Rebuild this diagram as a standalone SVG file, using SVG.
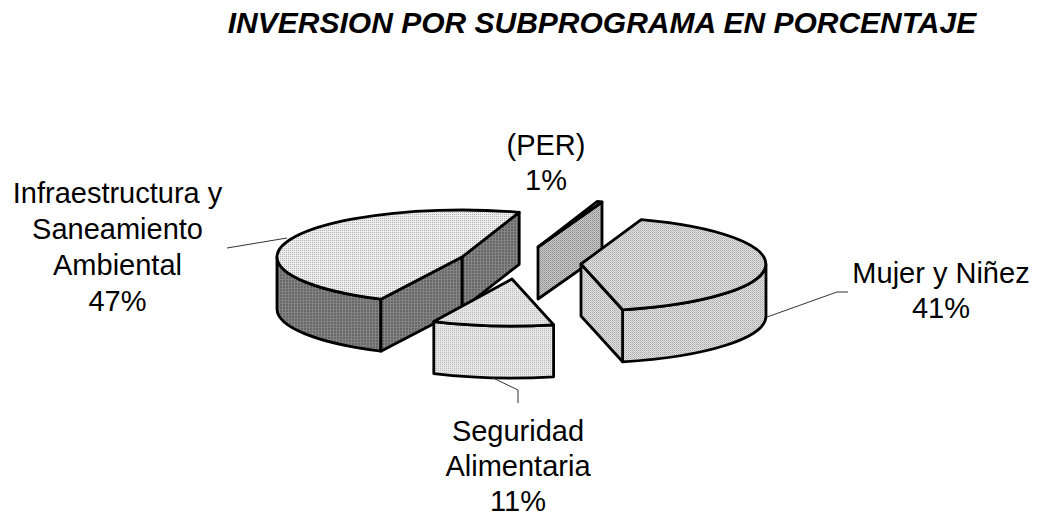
<svg xmlns="http://www.w3.org/2000/svg" width="1039" height="515" viewBox="0 0 1039 515">
<style>
.lbl{font-family:"Liberation Sans",Arial,sans-serif;font-size:29px;fill:#000;text-anchor:middle}
.ttl{font-family:"Liberation Sans",Arial,sans-serif;font-size:30px;font-weight:bold;font-style:italic;fill:#000;text-anchor:middle}
.edge{stroke:#000;stroke-width:2.8;stroke-linejoin:round}
.lead{fill:none;stroke:#333;stroke-width:1}
</style>
<defs>
<pattern id="pDark" width="3" height="3" patternUnits="userSpaceOnUse"><rect width="3" height="3" fill="#666"/><rect width="1" height="3" fill="#888"/><rect width="3" height="1" fill="#828282"/></pattern>
<pattern id="pLight" width="2" height="2" patternUnits="userSpaceOnUse"><rect width="2" height="2" fill="#eeeeee"/><rect width="1" height="1" fill="#b0b0b0"/></pattern>
<pattern id="pMid" width="2" height="2" patternUnits="userSpaceOnUse"><rect width="2" height="2" fill="#e0e0e0"/><rect width="1" height="1" fill="#aaaaaa"/><rect x="1" y="1" width="1" height="1" fill="#c0c0c0"/></pattern>
<pattern id="pSeg" width="2" height="2" patternUnits="userSpaceOnUse"><rect width="2" height="2" fill="#e6e6e6"/><rect width="1" height="1" fill="#bcbcbc"/></pattern>
<pattern id="pPer" width="2" height="2" patternUnits="userSpaceOnUse"><rect width="2" height="2" fill="#cccccc"/><rect width="1" height="1" fill="#888888"/><rect x="1" y="1" width="1" height="1" fill="#a2a2a2"/></pattern>
</defs>
<rect width="1039" height="515" fill="#fff"/>
<text class="ttl" x="602" y="33">INVERSION POR SUBPROGRAMA EN PORCENTAJE</text>

<g id="slice-infraestructura">
<path class="edge" fill="url(#pDark)" d="M380.9,299.2 A185,47 0 0 1 277,257 L277,309 A185,47 0 0 0 380.9,351.2 Z"/>
<path class="edge" fill="url(#pDark)" d="M462,257 L519.2,212.3 L519.2,264.3 L462,309 Z"/>
<path class="edge" fill="url(#pDark)" d="M462,257 L380.9,299.2 L380.9,351.2 L462,309 Z"/>
<path class="edge" fill="url(#pLight)" d="M462,257 L380.9,299.2 A185,47 0 0 1 277,257 A185,47 0 0 1 519.2,212.3 Z"/>
</g>

<g id="slice-per">
<path class="edge" fill="url(#pPer)" d="M538,247 L602,202 L602,254 L538,299 Z"/>
<path class="edge" fill="url(#pPer)" d="M538,247 L597,201.5 L602,202 Z"/>
</g>

<g id="slice-mujer">
<path class="edge" fill="url(#pMid)" d="M766,264 A185,47 0 0 1 622.6,309.8 L622.6,361.8 A185,47 0 0 0 766,316 Z"/>
<path class="edge" fill="url(#pMid)" d="M581,264 L622.6,309.8 L622.6,361.8 L581,316 Z"/>
<path class="edge" fill="url(#pMid)" d="M581,264 L641.2,219.6 A185,47 0 0 1 622.6,309.8 Z"/>
</g>

<g id="slice-seguridad">
<path class="edge" fill="url(#pSeg)" d="M553.6,324.8 A185,47 0 0 1 433.8,321.6 L433.8,373.6 A185,47 0 0 0 553.6,376.8 Z"/>
<path class="edge" fill="url(#pSeg)" d="M512,279 L553.6,324.8 A185,47 0 0 1 433.8,321.6 Z"/>
</g>

<g id="connectors">
<polyline class="lead" points="227,248 287,238"/>
<polyline class="lead" points="767,317 837,292 848,292"/>
<polyline class="lead" points="493,378 518,390 518,403"/>
</g>

<g id="label-infraestructura">
<text class="lbl" x="117.5" y="203">Infraestructura y</text>
<text class="lbl" x="117.5" y="239">Saneamiento</text>
<text class="lbl" x="117.5" y="275">Ambiental</text>
<text class="lbl" x="117.5" y="311">47%</text>
</g>
<g id="label-per">
<text class="lbl" x="546" y="155">(PER)</text>
<text class="lbl" x="546" y="190">1%</text>
</g>
<g id="label-mujer">
<text class="lbl" x="941" y="283">Mujer y Niñez</text>
<text class="lbl" x="941" y="318">41%</text>
</g>
<g id="label-seguridad">
<text class="lbl" x="518" y="441">Seguridad</text>
<text class="lbl" x="518" y="476">Alimentaria</text>
<text class="lbl" x="518" y="511">11%</text>
</g>
</svg>
